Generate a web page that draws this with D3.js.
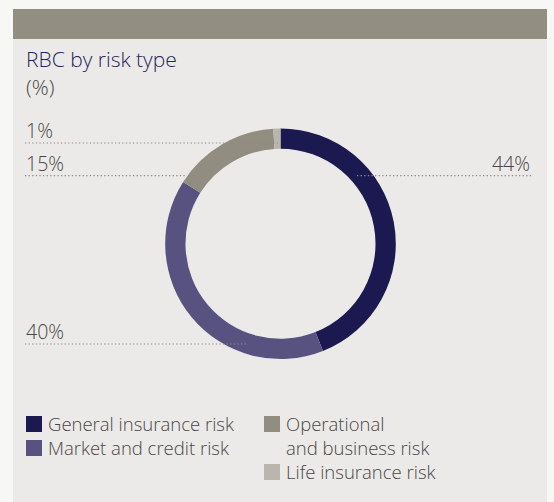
<!DOCTYPE html>
<html>
<head>
<meta charset="utf-8">
<script src="https://cdn.jsdelivr.net/npm/d3@7"></script>
<style>
  html, body { margin: 0; padding: 0; background: #f7f7f6; }
  svg { display: block; }
  text { font-family: "Open Sans", "Noto Sans", sans-serif; }
</style>
</head>
<body>
<svg id="chart" width="554" height="502"></svg>
<script>
// Risk-based capital split by risk type (%)
const categories = ["General insurance risk", "Market and credit risk", "Operational\nand business risk", "Life insurance risk"];
const values = [44, 40, 15, 1];
const colors = ["#1b1950", "#575280", "#918d80", "#bab6ae"];
const valueLabels = values.map(v => v + "%");

const W = 554, H = 502;
const svg = d3.select("#chart");
const textColor = "#474747";

// panel
const panel = { x: 13, y: 9, w: 534, h: 493, header: 30 };
svg.append("rect").attr("x", panel.x).attr("y", panel.y).attr("width", panel.w).attr("height", panel.h).attr("fill", "#ebeae8");
svg.append("rect").attr("x", panel.x).attr("y", panel.y).attr("width", panel.w).attr("height", panel.header).attr("fill", "#928e81");

// title
svg.append("text").attr("x", 26).attr("y", 67).attr("fill", "#25235c")
  .style("font-size", "21px").style("font-weight", 300).text("RBC by risk type");
svg.append("text").attr("x", 26).attr("y", 95).attr("fill", textColor)
  .style("font-size", "21px").style("font-weight", 300).text("(%)");

// donut
const cx = 280.5, cy = 243.7, rOuter = 115.3, rInner = 95;
const pie = d3.pie().sort(null).value(d => d)(values);
const arc = d3.arc().innerRadius(rInner).outerRadius(rOuter);
const g = svg.append("g").attr("transform", `translate(${cx},${cy})`);
g.selectAll("path").data(pie).join("path")
  .attr("d", arc).attr("fill", (d, i) => colors[i]);

// leader lines and value labels
const labelLayout = [
  { i: 0, y: 175.7, x1: 357, x2: 532, anchor: "end" },
  { i: 1, y: 344, x1: 25, x2: 247, anchor: "start" },
  { i: 2, y: 175.7, x1: 25, x2: 186, anchor: "start" },
  { i: 3, y: 143, x1: 25, x2: 278, anchor: "start" }
];
labelLayout.forEach(l => {
  svg.append("line").attr("x1", l.x1).attr("x2", l.x2).attr("y1", l.y).attr("y2", l.y)
    .attr("stroke", "#8f8b80").attr("stroke-width", 1.2).attr("stroke-dasharray", "1.3,2.3");
  svg.append("text")
    .attr("x", l.anchor === "end" ? l.x2 - 2 : l.x1 + 1)
    .attr("y", l.y - 5)
    .attr("text-anchor", l.anchor)
    .attr("fill", textColor)
    .style("font-size", "19.5px").style("font-weight", 300)
    .text(valueLabels[l.i]);
});

// legend
const legendCols = [{ x: 26, items: [0, 1] }, { x: 264, items: [2, 3] }];
const rowH = 24, legendTop = 416;
legendCols.forEach(col => {
  let row = 0;
  col.items.forEach(i => {
    const y = legendTop + row * rowH;
    svg.append("rect").attr("x", col.x).attr("y", y).attr("width", 16).attr("height", 16).attr("fill", colors[i]);
    const lines = categories[i].split("\n");
    lines.forEach((t, k) => {
      svg.append("text").attr("x", col.x + 22).attr("y", y + 15 + k * rowH)
        .attr("fill", textColor).style("font-size", "18.5px").style("font-weight", 300).text(t);
    });
    row += lines.length;
  });
});
</script>
</body>
</html>
